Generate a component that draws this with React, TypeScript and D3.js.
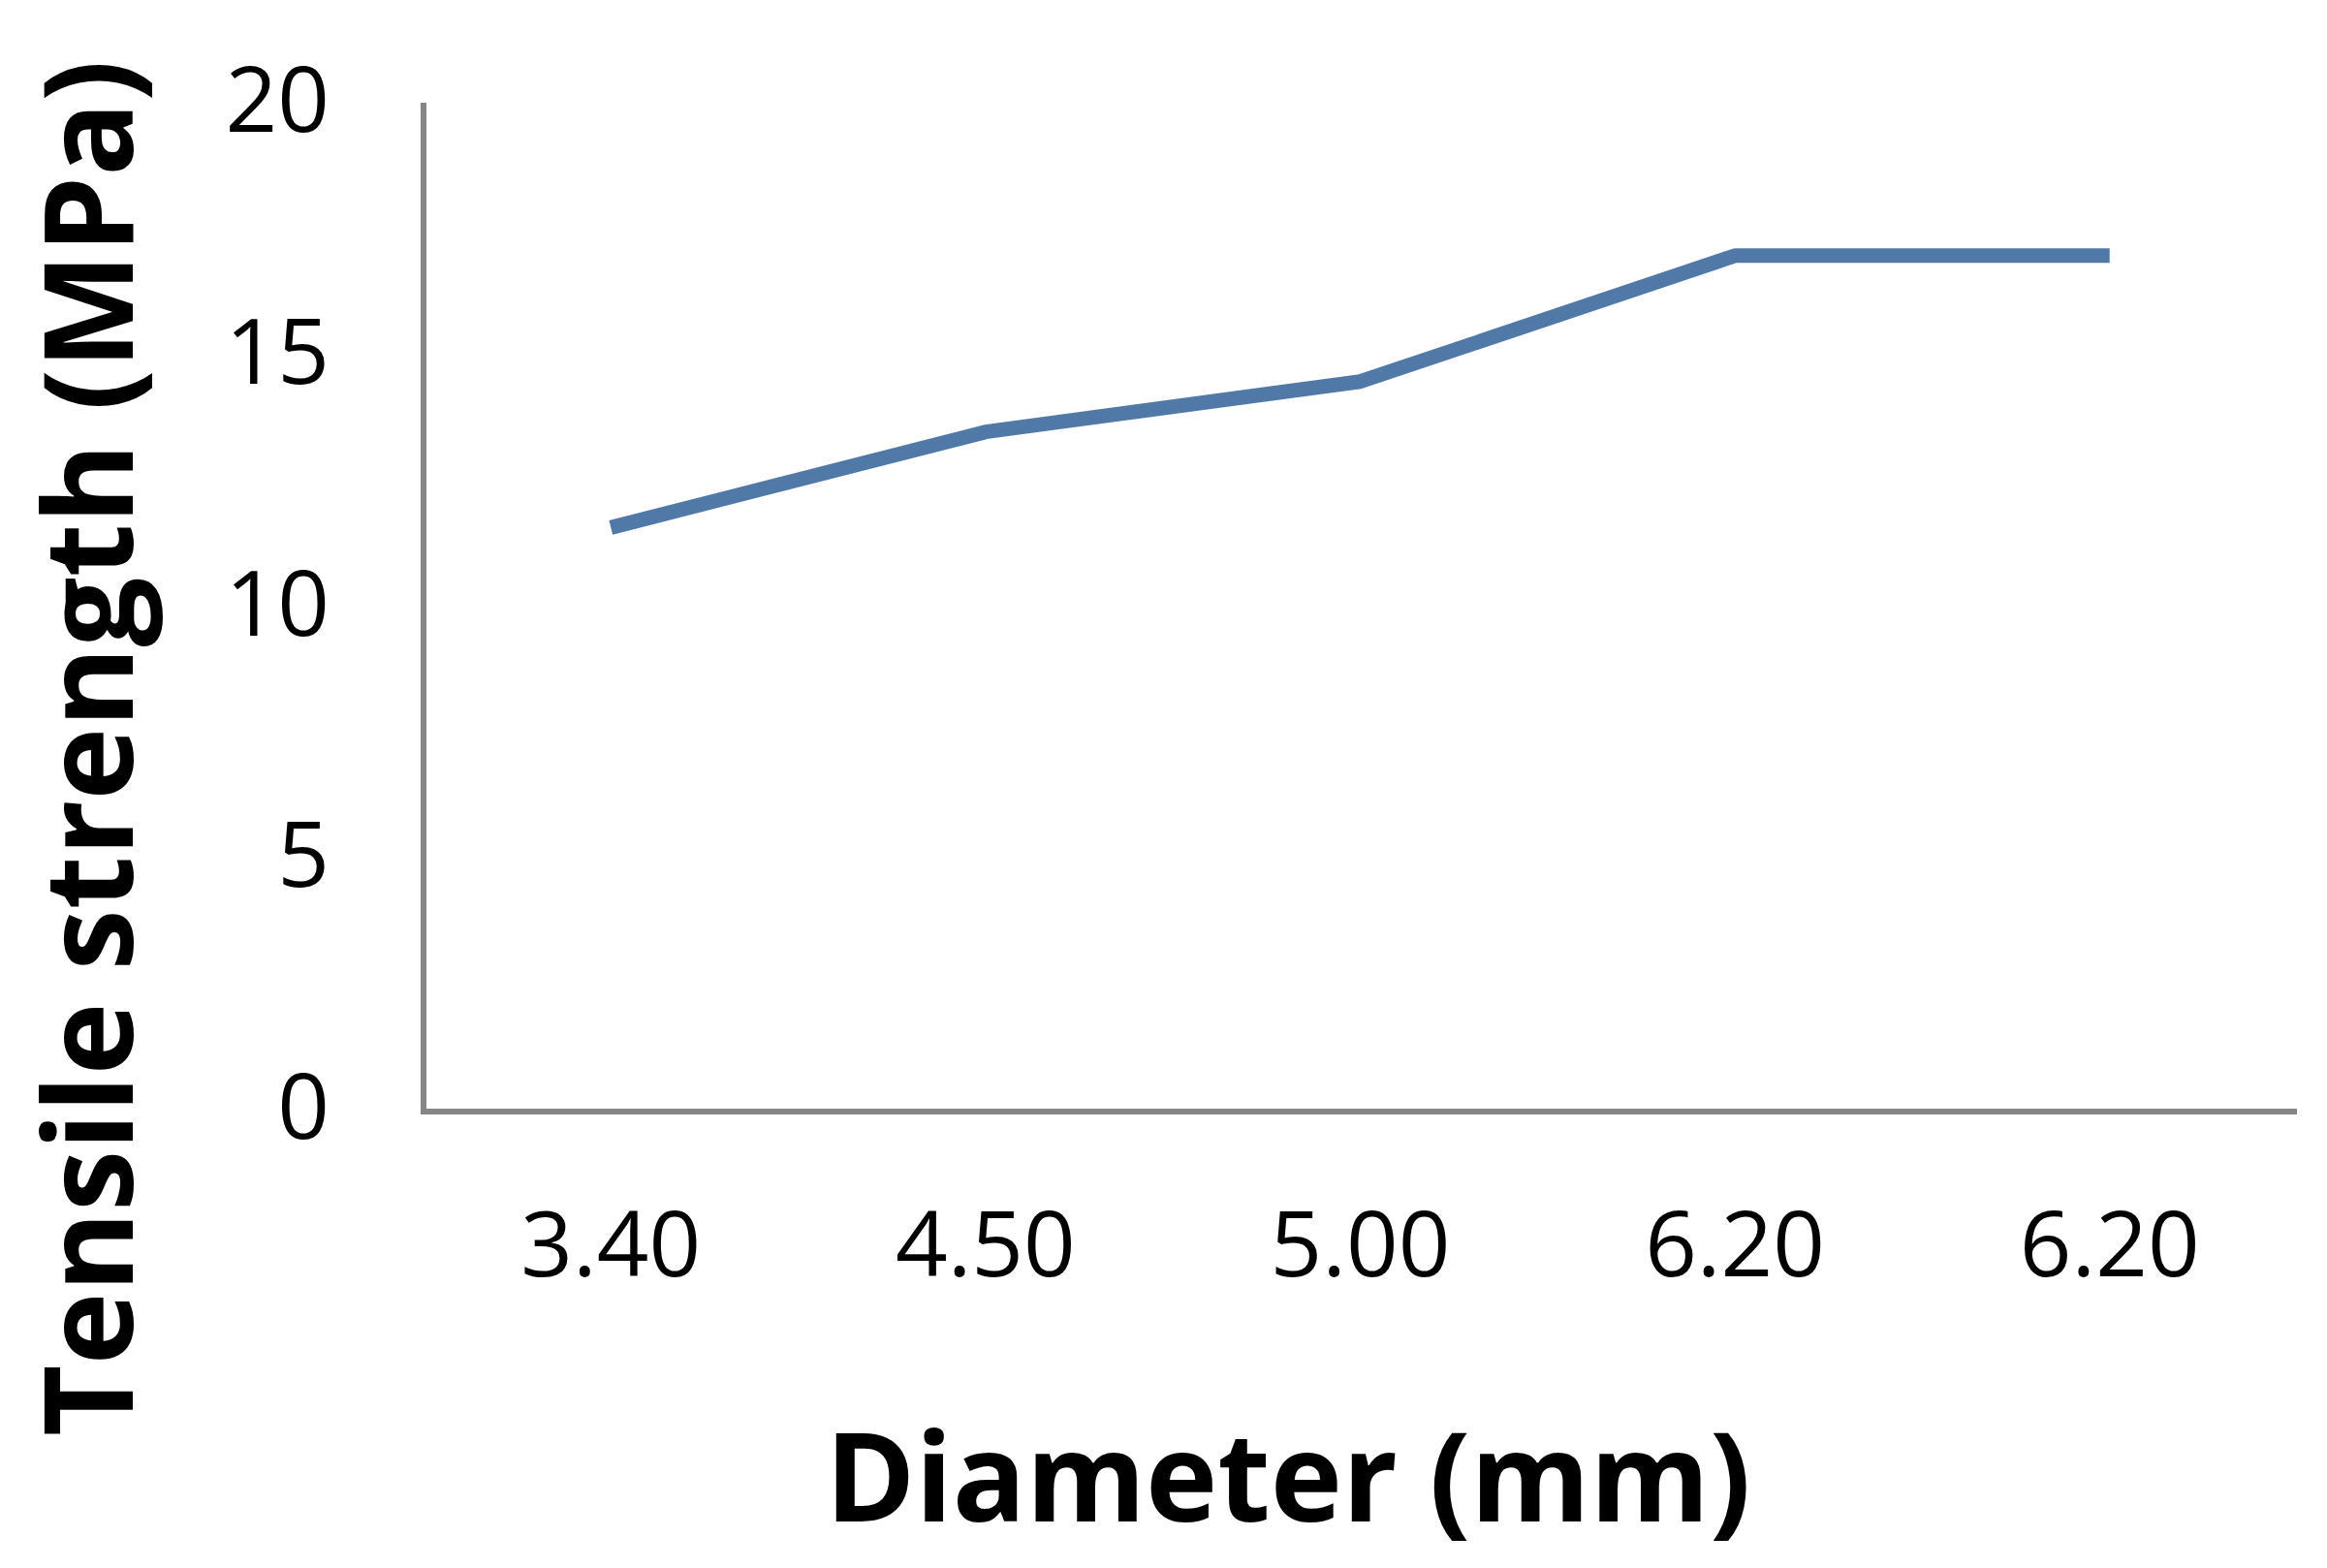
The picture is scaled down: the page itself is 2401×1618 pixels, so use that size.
import React, { useEffect, useRef } from 'react';
import * as d3 from 'd3';

// Tensile strength vs diameter (category axis)
const diameters = ['3.40', '4.50', '5.00', '6.20', '6.20'];
const strength = [11.6, 13.5, 14.5, 17.0, 17.0];
const yTicks = [0, 5, 10, 15, 20];

const xTitle = 'Diameter (mm)';
const yTitle = 'Tensile strength (MPa)';

function App() {
  const svgRef = useRef<SVGSVGElement>(null);

  useEffect(() => {
    document.body.style.margin = '0';

    const width = 2401;
    const height = 1618;
    const margin = { top: 108, right: 31, bottom: 471, left: 437 };
    const innerWidth = width - margin.left - margin.right;
    const innerHeight = height - margin.top - margin.bottom;

    const svg = d3.select(svgRef.current)
      .attr('width', width)
      .attr('height', height);

    svg.selectAll('*').remove();

    svg.append('rect')
      .attr('width', width)
      .attr('height', height)
      .attr('fill', '#fff');

    const g = svg.append('g')
      .attr('transform', `translate(${margin.left},${margin.top})`);

    const idx = diameters.map((_, i) => i);

    // band scale so each point sits in the middle of its category
    const xScale = d3.scaleBand<number>()
      .domain(idx)
      .range([0, innerWidth]);

    const yScale = d3.scaleLinear()
      .domain([0, 20])
      .range([innerHeight, 0]);

    const font = '"Open Sans", sans-serif';

    // Y tick labels (no tick marks)
    g.selectAll('.y-label')
      .data(yTicks)
      .enter()
      .append('text')
      .attr('class', 'y-label')
      .attr('x', -97)
      .attr('y', d => yScale(d))
      .attr('dy', '0.3em')
      .attr('text-anchor', 'end')
      .attr('font-family', font)
      .attr('font-weight', 500)
      .attr('font-size', 94)
      .attr('fill', '#000')
      .text(d => d);

    // X tick labels
    g.selectAll('.x-label')
      .data(idx)
      .enter()
      .append('text')
      .attr('class', 'x-label')
      .attr('x', i => xScale(i)! + xScale.bandwidth() / 2)
      .attr('y', innerHeight + 170)
      .attr('text-anchor', 'middle')
      .attr('font-family', font)
      .attr('font-weight', 500)
      .attr('font-size', 94)
      .attr('fill', '#000')
      .text(i => diameters[i]);

    // Axis lines
    g.append('line')
      .attr('x1', 0)
      .attr('x2', 0)
      .attr('y1', yScale(20) - 2)
      .attr('y2', innerHeight + 3)
      .attr('stroke', '#868686')
      .attr('stroke-width', 6);

    g.append('line')
      .attr('x1', -3)
      .attr('x2', innerWidth)
      .attr('y1', innerHeight)
      .attr('y2', innerHeight)
      .attr('stroke', '#868686')
      .attr('stroke-width', 6);

    // Data line
    const line = d3.line<number>()
      .x(i => xScale(i)! + xScale.bandwidth() / 2)
      .y(i => yScale(strength[i]));

    g.append('path')
      .datum(idx)
      .attr('d', line)
      .attr('fill', 'none')
      .attr('stroke', '#5079a8')
      .attr('stroke-width', 15)
      .attr('stroke-linejoin', 'round')
      .attr('stroke-linecap', 'butt');

    // Axis titles
    svg.append('text')
      .attr('x', 1329)
      .attr('y', 1570)
      .attr('text-anchor', 'middle')
      .attr('font-family', font)
      .attr('font-weight', 'bold')
      .attr('font-size', 128)
      .attr('textLength', 955)
      .attr('lengthAdjust', 'spacingAndGlyphs')
      .attr('fill', '#000')
      .text(xTitle);

    svg.append('text')
      .attr('transform', 'translate(137,772) rotate(-90)')
      .attr('text-anchor', 'middle')
      .attr('font-family', font)
      .attr('font-weight', 'bold')
      .attr('font-size', 128)
      .attr('textLength', 1420)
      .attr('lengthAdjust', 'spacingAndGlyphs')
      .attr('fill', '#000')
      .text(yTitle);
  }, []);

  return (
    <div>
      <svg ref={svgRef} style={{ display: 'block' }}></svg>
    </div>
  );
}

export default App;
